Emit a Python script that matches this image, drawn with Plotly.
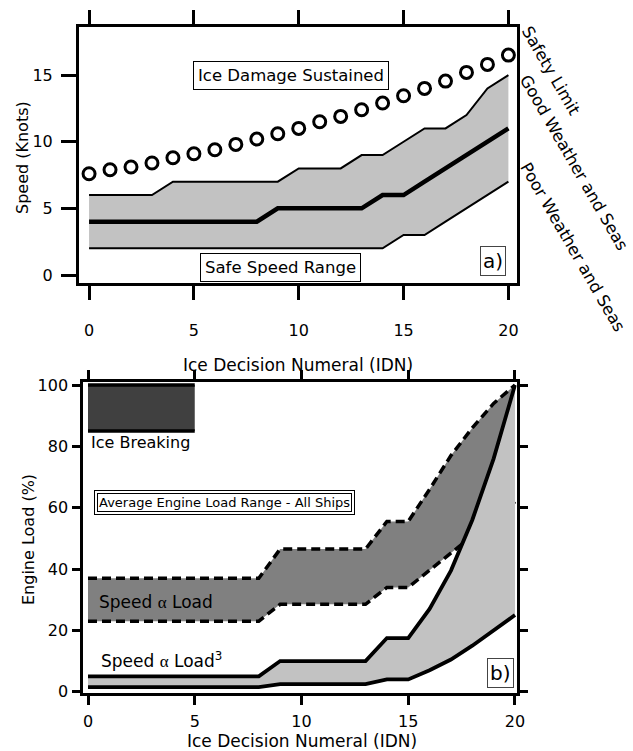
import plotly.graph_objects as go

# ---------------- data: panel a (speed) ----------------
idn = list(range(21))
safety_limit = [7.6, 7.9, 8.1, 8.4, 8.8, 9.1, 9.4, 9.8, 10.2, 10.6, 11.0,
                11.5, 11.9, 12.4, 12.9, 13.45, 14.0, 14.55, 15.2, 15.8, 16.5]
good_weather = [6, 6, 6, 6, 7, 7, 7, 7, 7, 7, 8, 8, 8, 9, 9, 10, 11, 11, 12, 14, 15]
mid_speed = [4, 4, 4, 4, 4, 4, 4, 4, 4, 5, 5, 5, 5, 5, 6, 6, 7, 8, 9, 10, 11]
poor_weather = [2, 2, 2, 2, 2, 2, 2, 2, 2, 2, 2, 2, 2, 2, 2, 3, 3, 4, 5, 6, 7]

# ---------------- data: panel b (engine load) ----------------
load_lin_high = [37, 37, 37, 37, 37, 37, 37, 37, 37, 46.5, 46.5, 46.5, 46.5, 46.5,
                 55.5, 55.5, 66, 77, 86, 94, 100]
load_lin_low = [23, 23, 23, 23, 23, 23, 23, 23, 23, 28.5, 28.5, 28.5, 28.5, 28.5,
                34, 34, 39.6, 45.2, 50.8, 56.4, 62]
load_cub_high = [5, 5, 5, 5, 5, 5, 5, 5, 5, 10, 10, 10, 10, 10,
                 17.5, 17.5, 27, 39.5, 56, 76, 100]
load_cub_low = [1.5, 1.5, 1.5, 1.5, 1.5, 1.5, 1.5, 1.5, 1.5, 2.5, 2.5, 2.5, 2.5, 2.5,
                4, 4, 7, 10.5, 15, 20, 25]
ice_break_x = [0, 5]
ice_break_low = [85, 85]
ice_break_high = [100, 100]

FONT = "DejaVu Sans"
fig = go.Figure()


def band(x, hi, lo, color, xa, ya):
    fig.add_trace(go.Scatter(x=list(x) + list(x)[::-1], y=list(hi) + list(lo)[::-1],
                             fill="toself", fillcolor=color, mode="none",
                             hoverinfo="skip", xaxis=xa, yaxis=ya))


def line(x, y, width, xa, ya, dash="solid"):
    fig.add_trace(go.Scatter(x=x, y=y, mode="lines",
                             line=dict(color="black", width=width, dash=dash),
                             xaxis=xa, yaxis=ya))


# panel a
band(idn, good_weather, poor_weather, "#c2c2c2", "x", "y")
line(idn, good_weather, 2, "x", "y")
line(idn, poor_weather, 2, "x", "y")
line(idn, mid_speed, 4.5, "x", "y")
fig.add_trace(go.Scatter(x=idn, y=safety_limit, mode="markers",
                         marker=dict(symbol="circle-open", size=12, color="black",
                                     line=dict(width=3, color="black")),
                         xaxis="x", yaxis="y"))

# panel b
band(ice_break_x, ice_break_high, ice_break_low, "#404040", "x2", "y2")
line(ice_break_x, ice_break_high, 3.5, "x2", "y2")
line(ice_break_x, ice_break_low, 3.5, "x2", "y2")
band(idn, load_lin_high, load_lin_low, "#808080", "x2", "y2")
line(idn, load_lin_high, 3.5, "x2", "y2", dash="9px,5px")
line(idn, load_lin_low, 3.5, "x2", "y2", dash="9px,5px")
band(idn, load_cub_high, load_cub_low, "#c2c2c2", "x2", "y2")
line(idn, load_cub_high, 3.8, "x2", "y2")
line(idn, load_cub_low, 3.8, "x2", "y2")

W, H = 633, 751


def px_x(p):
    return p / W


def px_y(p):
    return 1 - p / H


axis_common = dict(showline=True, linewidth=3, linecolor="black", showgrid=False,
                   zeroline=False, ticks="outside", tickwidth=3, tickcolor="black",
                   automargin=False,
                   tickfont=dict(family=FONT, size=16, color="black"))

fig.update_layout(
    width=W, height=H, margin=dict(l=0, r=0, t=0, b=0, pad=0),
    paper_bgcolor="white", plot_bgcolor="white", showlegend=False,
    xaxis=dict(axis_common, domain=[px_x(79), px_x(517)], range=[-0.48, 20.41],
               tickvals=[0, 5, 10, 15, 20], ticklen=14, mirror="ticks",
               ticklabelstandoff=17, anchor="y"),
    yaxis=dict(axis_common, domain=[px_y(283), px_y(26.7)], range=[-0.6, 18.63],
               tickvals=[0, 5, 10, 15], ticklen=15, mirror=True,
               ticklabelstandoff=5, anchor="x"),
    xaxis2=dict(axis_common, domain=[px_x(83.3), px_x(516.7)], range=[-0.22, 20.08],
                tickvals=[0, 5, 10, 15, 20], ticklen=9, mirror="ticks",
                ticklabelstandoff=2, anchor="y2"),
    yaxis2=dict(axis_common, domain=[px_y(693.3), px_y(381.7)], range=[-0.52, 101.08],
                tickvals=[0, 20, 40, 60, 80, 100], ticklen=8, mirror="ticks",
                ticklabelstandoff=1, anchor="x2"),
)

ann = []
f16 = dict(family=FONT, size=16, color="black")
f165 = dict(family=FONT, size=16.5, color="black")
f17 = dict(family=FONT, size=17, color="black")
# axis titles
ann.append(dict(text="Ice Decision Numeral (IDN)", x=px_x(298), y=px_y(365), xref="paper",
                yref="paper", showarrow=False, font=f17, xanchor="center", yanchor="middle"))
ann.append(dict(text="Ice Decision Numeral (IDN)", x=px_x(302), y=px_y(741), xref="paper",
                yref="paper", showarrow=False, font=f17, xanchor="center", yanchor="middle"))
ann.append(dict(text="Speed (Knots)", x=px_x(22), y=px_y(158), xref="paper", yref="paper",
                showarrow=False, font=f16, textangle=-90, xanchor="center", yanchor="middle"))
ann.append(dict(text="Engine Load (%)", x=px_x(28), y=px_y(540), xref="paper", yref="paper",
                showarrow=False, font=f16, textangle=-90, xanchor="center", yanchor="middle"))
# rotated right labels
for t, cx, cy in [("Safety Limit", 551, 70), ("Good Weather and Seas", 574, 162),
                  ("Poor Weather and Seas", 573, 247)]:
    ann.append(dict(text=t, x=px_x(cx), y=px_y(cy), xref="paper", yref="paper",
                    showarrow=False, font=dict(family=FONT, size=16.5, color="black"),
                    textangle=60, xanchor="center", yanchor="middle"))
# panel a boxes
ann.append(dict(text="Ice Damage Sustained", x=9.64, y=15.0, xref="x", yref="y",
                showarrow=False, font=f165, bgcolor="white", bordercolor="black",
                borderwidth=1, borderpad=4))
ann.append(dict(text="Safe Speed Range", x=9.12, y=0.6, xref="x", yref="y",
                showarrow=False, font=f165, bgcolor="white", bordercolor="black",
                borderwidth=1, borderpad=4))
ann.append(dict(text="a)", x=19.28, y=1.05, xref="x", yref="y", showarrow=False,
                font=dict(family=FONT, size=20, color="black"), bgcolor="white",
                bordercolor="#444", borderwidth=1, borderpad=2))
# panel b labels
ann.append(dict(text="Ice Breaking", x=0.05, y=81.1, xref="x2", yref="y2",
                showarrow=False, font=f16, xanchor="left", yanchor="middle"))
avg_txt = "Average Engine Load Range - All Ships"
ann.append(dict(text=avg_txt, x=6.39, y=61.7, xref="x2", yref="y2", showarrow=False,
                font=dict(family=FONT, size=13, color="white"), bgcolor="white",
                bordercolor="black", borderwidth=1, borderpad=4))
ann.append(dict(text=avg_txt, x=6.39, y=61.7, xref="x2", yref="y2", showarrow=False,
                font=dict(family=FONT, size=13, color="black"), bgcolor="white",
                bordercolor="black", borderwidth=1, borderpad=1))
alpha = '<span style="font-family:Liberation Serif">\u03b1</span>'
ann.append(dict(text="Speed " + alpha + " Load", x=0.42, y=29.3, xref="x2", yref="y2",
                showarrow=False, font=f17, xanchor="left", yanchor="middle"))
ann.append(dict(text="Speed " + alpha + " Load<sup>3</sup>", x=0.52, y=10.5, xref="x2",
                yref="y2", showarrow=False, font=f17, xanchor="left", yanchor="middle"))
ann.append(dict(text="b)", x=19.34, y=6.1, xref="x2", yref="y2", showarrow=False,
                font=dict(family=FONT, size=20, color="black"), bgcolor="white",
                bordercolor="#444", borderwidth=1, borderpad=2))
fig.update_layout(annotations=ann)

fig.write_html("out.html", config={"displayModeBar": False},
               post_script="document.body.style.margin='0';")
